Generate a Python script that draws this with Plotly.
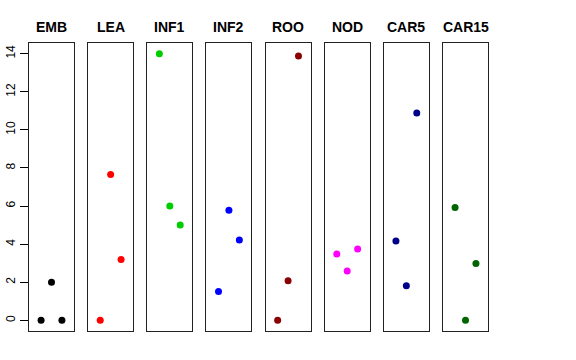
import plotly.graph_objects as go

panels = ["EMB", "LEA", "INF1", "INF2", "ROO", "NOD", "CAR5", "CAR15"]
colors = ["#000000", "#FF0000", "#00CD00", "#0000FF", "#8B0000", "#FF00FF", "#00008B", "#006400"]
positions = [1, 2, 3]
emb = [0, 2, 0]
lea = [0, 7.65, 3.2]
inf1 = [14, 6, 5]
inf2 = [1.52, 5.78, 4.22]
roo = [0, 2.08, 13.88]
nod = [3.48, 2.59, 3.74]
car5 = [4.16, 1.82, 10.89]
car15 = [5.93, 0, 2.99]
values = [emb, lea, inf1, inf2, roo, nod, car5, car15]
y_ticks = [0, 2, 4, 6, 8, 10, 12, 14]

W, H = 576, 360
left, right, top, bottom = 29, 488, 43, 331
pw = 45.0
gap = ((right - left) - 8 * pw) / 7

fig = go.Figure()
layout = dict(
    width=W, height=H,
    margin=dict(l=left, r=W - right, t=top, b=H - bottom, autoexpand=False),
    plot_bgcolor="white", paper_bgcolor="white",
    showlegend=False,
    font=dict(family="Liberation Sans, Arial, sans-serif", color="black"),
)
annotations = []
for i, (name, vals, col) in enumerate(zip(panels, values, colors)):
    x0 = (i * (pw + gap)) / (right - left)
    x1 = (i * (pw + gap) + pw) / (right - left)
    xa = "xaxis" if i == 0 else f"xaxis{i+1}"
    ya = "yaxis" if i == 0 else f"yaxis{i+1}"
    xr = "x" if i == 0 else f"x{i+1}"
    yr = "y" if i == 0 else f"y{i+1}"
    fig.add_trace(go.Scatter(
        x=positions, y=vals, mode="markers", xaxis=xr, yaxis=yr,
        marker=dict(color=col, size=7, line=dict(width=0)),
        hoverinfo="skip",
    ))
    layout[xa] = dict(domain=[x0, x1], range=[-0.16, 4.16], showgrid=False,
                      zeroline=False, showticklabels=False, ticks="",
                      showline=True, linecolor="#222222", linewidth=1, mirror=True,
                      anchor=yr, automargin=False)
    yd = dict(range=[-0.56, 14.56], showgrid=False, zeroline=False,
              showline=True, linecolor="#222222", linewidth=1, mirror=True,
              anchor=xr, domain=[0, 1], automargin=False)
    if i == 0:
        yd.update(tickvals=y_ticks, ticktext=[str(v) for v in y_ticks],
                  ticks="outside", ticklen=8, tickcolor="black", tickwidth=1,
                  tickangle=-90, tickfont=dict(size=12, color="black"))
    else:
        yd.update(showticklabels=False, ticks="")
    layout[ya] = yd
    annotations.append(dict(
        text=f"<b>{name}</b>", x=(x0 + x1) / 2, y=1, xref="paper", yref="paper",
        xanchor="center", yanchor="bottom", yshift=6, showarrow=False,
        font=dict(size=14, color="black", family="Liberation Sans, Arial, sans-serif"),
    ))
layout["annotations"] = annotations
fig.update_layout(**layout)
fig.write_html("out.html", config={"displayModeBar": False},
               post_script="document.body.style.margin='0';")
